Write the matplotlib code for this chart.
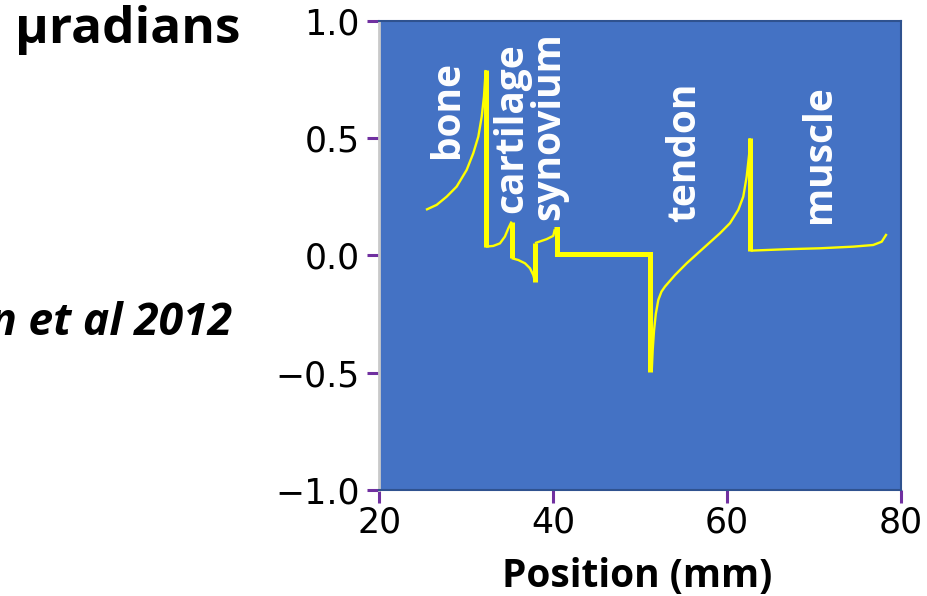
import matplotlib
matplotlib.use("Agg")
import matplotlib.pyplot as plt

# thin curve pieces (position in mm, signal in µradians)
bone_x = [25.37, 26.60, 27.75, 28.90, 30.05, 30.81, 31.39, 31.78, 32.04, 32.24]
bone_y = [0.194, 0.215, 0.250, 0.293, 0.364, 0.435, 0.506, 0.591, 0.677, 0.790]

cartilage_x = [32.24, 33.11, 33.88, 34.45, 34.84, 35.22]
cartilage_y = [0.037, 0.040, 0.051, 0.080, 0.115, 0.144]

dip_x = [35.22, 35.99, 36.76, 37.33, 37.71, 37.91]
dip_y = [-0.012, -0.020, -0.034, -0.055, -0.084, -0.112]

synovium_x = [37.91, 39.25, 40.01, 40.19]
synovium_y = [0.052, 0.069, 0.083, 0.111]

tendon_x = [51.33, 51.45, 51.60, 51.80, 52.09, 52.45, 52.86, 54.01, 55.35, 57.26,
            59.18, 60.33, 61.29, 61.86, 62.25, 62.55, 62.63]
tendon_y = [-0.496, -0.400, -0.320, -0.250, -0.190, -0.155, -0.133, -0.084, -0.034, 0.030,
            0.094, 0.137, 0.194, 0.250, 0.335, 0.435, 0.499]

muscle_x = [62.70, 66.85, 70.68, 74.50, 76.80, 77.78, 78.35]
muscle_y = [0.020, 0.026, 0.030, 0.037, 0.044, 0.058, 0.091]

# thick steps between tissues
jump_bone_x = [32.24, 32.24]
jump_bone_y = [0.790, 0.037]
jump_cart_x = [35.22, 35.22]
jump_cart_y = [0.144, -0.012]
jump_dip_x = [37.91, 37.91]
jump_dip_y = [-0.112, 0.052]
plateau_x = [40.10, 40.40, 40.40, 51.13, 51.13]
plateau_y = [0.111, 0.111, 0.005, 0.005, -0.496]
jump_tendon_x = [62.63, 62.63]
jump_tendon_y = [0.499, 0.020]

tissues = ["bone", "cartilage", "synovium", "tendon", "muscle"]
tissue_x = [27.9, 35.2, 39.5, 55.15, 70.65]
tissue_y = [0.415, 0.181, 0.151, 0.142, 0.138]

x_ticks = [20, 40, 60, 80]
y_ticks = [-1.0, -0.5, 0.0, 0.5, 1.0]

fig = plt.figure(figsize=(9.28, 5.96), dpi=100)
ax = fig.add_axes([0.4087, 0.1779, 0.5622, 0.7874])
ax.set_facecolor("#4472C4")

yellow = "#FFFF00"
thin = [(bone_x, bone_y), (cartilage_x, cartilage_y), (dip_x, dip_y),
        (synovium_x, synovium_y), (tendon_x, tendon_y), (muscle_x, muscle_y)]
for xs, ys in thin:
    ax.plot(xs, ys, color=yellow, lw=1.7, solid_capstyle="butt")
thick = [(jump_bone_x, jump_bone_y), (jump_cart_x, jump_cart_y), (jump_dip_x, jump_dip_y),
         (plateau_x, plateau_y), (jump_tendon_x, jump_tendon_y)]
for xs, ys in thick:
    ax.plot(xs, ys, color=yellow, lw=3.6, solid_capstyle="butt", solid_joinstyle="miter")

for name, tx, ty in zip(tissues, tissue_x, tissue_y):
    ax.text(tx, ty, name, rotation=90, ha="center", va="bottom", color="white",
            fontsize=28, fontweight="bold", family="Open Sans")

ax.set_xlim(20, 80)
ax.set_ylim(-1.0, 1.0)
ax.set_xticks(x_ticks)
ax.set_yticks(y_ticks)
ax.set_xticklabels([str(v) for v in x_ticks])
ax.set_yticklabels([f"{v:.1f}".replace("-", "\u2212") for v in y_ticks])
ax.tick_params(axis="both", direction="out", color="#7030A0", width=2.2,
               labelsize=25, labelcolor="black")
ax.tick_params(axis="y", length=8.6, pad=5.5)
ax.tick_params(axis="x", length=9.4, pad=1.5)
for lab in ax.get_xticklabels() + ax.get_yticklabels():
    lab.set_family("DejaVu Sans")

ax.spines["left"].set_color("#C9C9C9")
ax.spines["left"].set_linewidth(2)
for side in ["top", "right", "bottom"]:
    ax.spines[side].set_color("#2F528F")
    ax.spines[side].set_linewidth(1.5)

fig.text(15 / 928, 1 - 43 / 596, "\u03bcradians", ha="left", va="baseline",
         fontsize=37, fontweight="bold", family="Open Sans")
fig.text(232 / 928, 1 - 335 / 596, "n et al 2012", ha="right", va="baseline",
         fontsize=32, fontweight="bold", style="italic", family="Open Sans")
fig.text(637.5 / 928, 1 - 587 / 596, "Position (mm)", ha="center", va="baseline",
         fontsize=28, fontweight="bold", family="Open Sans")

fig.savefig("out.png", dpi=100)
